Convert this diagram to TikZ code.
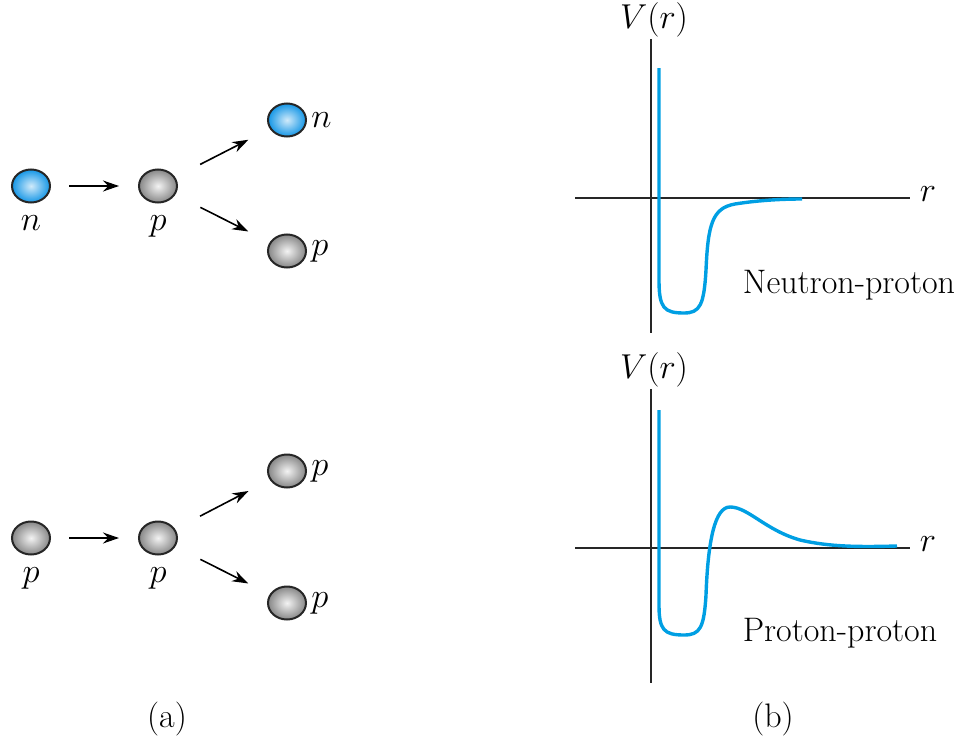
\documentclass[tikz,border=0pt]{standalone}
\usepackage{amsmath,amssymb}
\usepackage{tikz}
\usetikzlibrary{arrows.meta,positioning,shapes.geometric}

\definecolor{curveblue}{RGB}{0,159,227}
\definecolor{ballblue}{RGB}{20,150,230}
\definecolor{ballgray}{RGB}{135,135,135}

\tikzset{
  particle/.style={ellipse, draw=black!85, line width=1pt, inner sep=0pt,
    minimum width=19pt, minimum height=16.5pt},
  neutron/.style={particle, inner color=white!80!ballblue, outer color=ballblue},
  proton/.style={particle, inner color=white!90!ballgray, outer color=ballgray},
  lbl/.style={font=\fontsize{17}{20}\selectfont, inner sep=1pt},
  flow/.style={-{Stealth[length=8pt,width=5.5pt]}, line width=0.8pt},
  axis/.style={line width=0.6pt, black!85},
  potential/.style={curveblue, line width=1.7pt, line join=round}
}

\begin{document}
\begin{tikzpicture}[x=0.5pt, y=-0.5pt]
    \useasboundingbox (0,0) rectangle (959,739);

    % (a) top: n hits p
    \node[neutron] (n0) at (31,186) {};
    \node[proton]  (p0) at (158,186) {};
    \node[neutron] (n1) at (287,120) {};
    \node[proton]  (p1) at (287,251) {};
    \node[lbl, below=5pt of n0] (n0l) {$n$};
    \node[lbl, below=5pt of p0] (p0l) {$p$};
    \node[lbl, right=1pt of n1] (n1l) {$n$};
    \node[lbl, right=1pt of p1] (p1l) {$p$};

    \draw[flow, shorten <=9pt, shorten >=9.5pt] (n0) -- (p0);
    \draw[flow, shorten <=14pt, shorten >=12pt] (p0) -- (n1);
    \draw[flow, shorten <=14pt, shorten >=12pt] (p0) -- (p1);

    % (a) bottom: p hits p
    \node[proton] (q0) at (31,538) {};
    \node[proton] (q1) at (158,538) {};
    \node[proton] (q2) at (287,471) {};
    \node[proton] (q3) at (287,603) {};
    \node[lbl, below=5pt of q0] (q0l) {$p$};
    \node[lbl, below=5pt of q1] (q1l) {$p$};
    \node[lbl, right=1pt of q2] (q2l) {$p$};
    \node[lbl, right=1pt of q3] (q3l) {$p$};

    \draw[flow, shorten <=9pt, shorten >=9.5pt] (q0) -- (q1);
    \draw[flow, shorten <=14pt, shorten >=12pt] (q1) -- (q2);
    \draw[flow, shorten <=14pt, shorten >=12pt] (q1) -- (q3);

    % (b) top: neutron-proton well
    \draw[axis] (651,39) -- (651,333);
    \draw[axis] (575,198) -- (910,198);
    \node[lbl] (vt) at (654,20) {$V(r)$};
    \node[lbl] (rt) at (928,194) {$r$};
    \draw[potential] (659,68) -- (659,280)
        .. controls (659,308) and (664,313) .. (684,313)
        .. controls (700,313) and (704,305) .. (706,270)
        .. controls (708,225) and (712,208) .. (735,204)
        .. controls (760,200) and (785,199) .. (802,199);
    \node[lbl] (npl) at (849,285) {Neutron-proton};

    % (b) bottom: proton-proton well with Coulomb bump
    \draw[axis] (651,389) -- (651,683);
    \draw[axis] (575,548) -- (910,548);
    \node[lbl] (vb) at (654,370) {$V(r)$};
    \node[lbl] (rb) at (928,544) {$r$};
    \draw[potential] (659,410) -- (659,605)
        .. controls (659,630) and (664,635) .. (684,635)
        .. controls (700,635) and (704,628) .. (706,595)
        .. controls (708,540) and (715,507) .. (730,507)
        .. controls (748,507) and (765,530) .. (800,540)
        .. controls (830,547) and (860,547) .. (897,546);
    \node[lbl] (ppl) at (840,633) {Proton-proton};

    % captions
    \node[lbl] (capa) at (167,719) {(a)};
    \node[lbl] (capb) at (773,719) {(b)};
\end{tikzpicture}
\end{document}
